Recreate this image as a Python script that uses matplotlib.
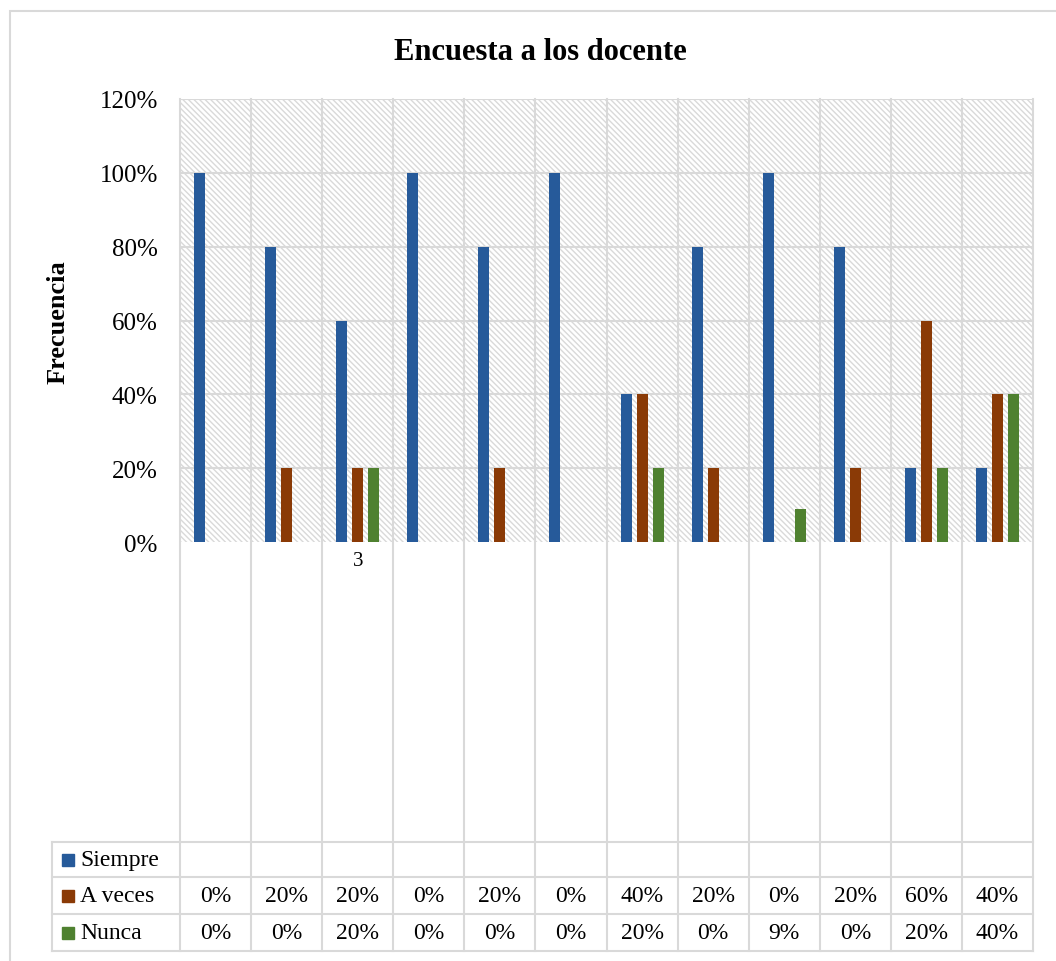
import matplotlib
matplotlib.use("Agg")
import matplotlib.pyplot as plt
import numpy as np
from matplotlib.patches import Rectangle
from matplotlib.transforms import blended_transform_factory

plt.rcParams['font.family'] = ['Liberation Serif', 'DejaVu Serif']
plt.rcParams['hatch.linewidth'] = 1.0
plt.rcParams['hatch.color'] = '#d9d9d9'

# data (in %)
siempre = [100, 80, 60, 100, 80, 100, 40, 80, 100, 80, 20, 20]
a_veces = [0, 20, 20, 0, 20, 0, 40, 20, 0, 20, 60, 40]
nunca = [0, 0, 20, 0, 0, 0, 20, 0, 9, 0, 20, 40]
# the category labels are blanked out in the source, only a bit of the 3rd shows
cat_labels = ["", "", "3", "", "", "", "", "", "", "", "", ""]
series_names = ["Siempre", "A veces", "Nunca"]
colors = ['#265a9a', '#8a3a06', '#4f8130']
grid_c = '#d9d9d9'

W, H = 1056, 962
fig = plt.figure(figsize=(W / 100, H / 100), dpi=100)
fig.patches.append(Rectangle((10 / W, -0.01), 1.05, (H - 12) / H + 0.01,
                             transform=fig.transFigure, facecolor='none',
                             edgecolor=grid_c, lw=1.5))

ax = fig.add_axes([180 / W, (H - 543) / H, 853 / W, 443 / H])
n = len(siempre)
x = np.arange(n)
ax.set_xlim(-0.5, n - 0.5)
ax.set_ylim(0, 120)

# hatched plot area
ax.add_patch(Rectangle((0, 0), 1, 1, transform=ax.transAxes, facecolor='white',
                       edgecolor=grid_c, hatch='\\\\\\\\\\\\', lw=0, zorder=0))
for yv in range(20, 121, 20):
    ax.axhline(yv, color=grid_c, lw=1.5, zorder=1)

w = 0.155
off = 0.225
for i, (vals, c) in enumerate(zip([siempre, a_veces, nunca], colors)):
    ax.bar(x + (i - 1) * off, vals, width=w, color=c, zorder=3)

ax.set_yticks(range(0, 121, 20))
ax.set_yticklabels([f"{v}%" for v in range(0, 121, 20)], fontsize=18)
ax.tick_params(axis='y', length=0, pad=16)
ax.set_xticks([])
for s in ax.spines.values():
    s.set_visible(False)

fig.text(540 / W, (H - 52) / H, "Encuesta a los docente", fontsize=22,
         fontweight='bold', ha='center', va='center')
fig.text(58 / W, (H - 322) / H, "Frecuencia", rotation=90, fontsize=19,
         fontweight='bold', ha='center', va='center')

# data table under the axis
tr = blended_transform_factory(ax.transData, ax.transAxes)
px = 12 / 853


def ay(py):
    return (543 - py) / 443


x_left = -0.5 - (180 - 52) * px
row_edges = [843, 878, 915, 952]
for b in np.arange(-0.5, n, 1.0):
    ax.plot([b, b], [1, ay(952)], color=grid_c, lw=1.5, transform=tr,
            clip_on=False, zorder=1)
ax.plot([x_left, x_left], [ay(843), ay(952)], color=grid_c, lw=1.5,
        transform=tr, clip_on=False)
for r in row_edges:
    ax.plot([x_left, n - 0.5], [ay(r), ay(r)], color=grid_c, lw=1.5,
            transform=tr, clip_on=False)

for i, lab in enumerate(cat_labels):
    ax.text(i, ay(562), lab, fontsize=15, ha='center', va='center',
            transform=tr, clip_on=False)

rows = [None, a_veces, nunca]
for k, (name, c, vals) in enumerate(zip(series_names, colors, rows)):
    yc = ay((row_edges[k] + row_edges[k + 1]) / 2)
    ax.plot([-0.5 - 112 * px], [yc], marker='s', ms=9, color=c,
            transform=tr, clip_on=False)
    ax.text(-0.5 - 100 * px, yc, name, fontsize=17, ha='left', va='center',
            transform=tr, clip_on=False)
    if vals is None:
        continue
    for i, v in enumerate(vals):
        ax.text(i, yc, f"{v}%", fontsize=17, ha='center', va='center',
                transform=tr, clip_on=False)

fig.savefig("out.png", dpi=100)
